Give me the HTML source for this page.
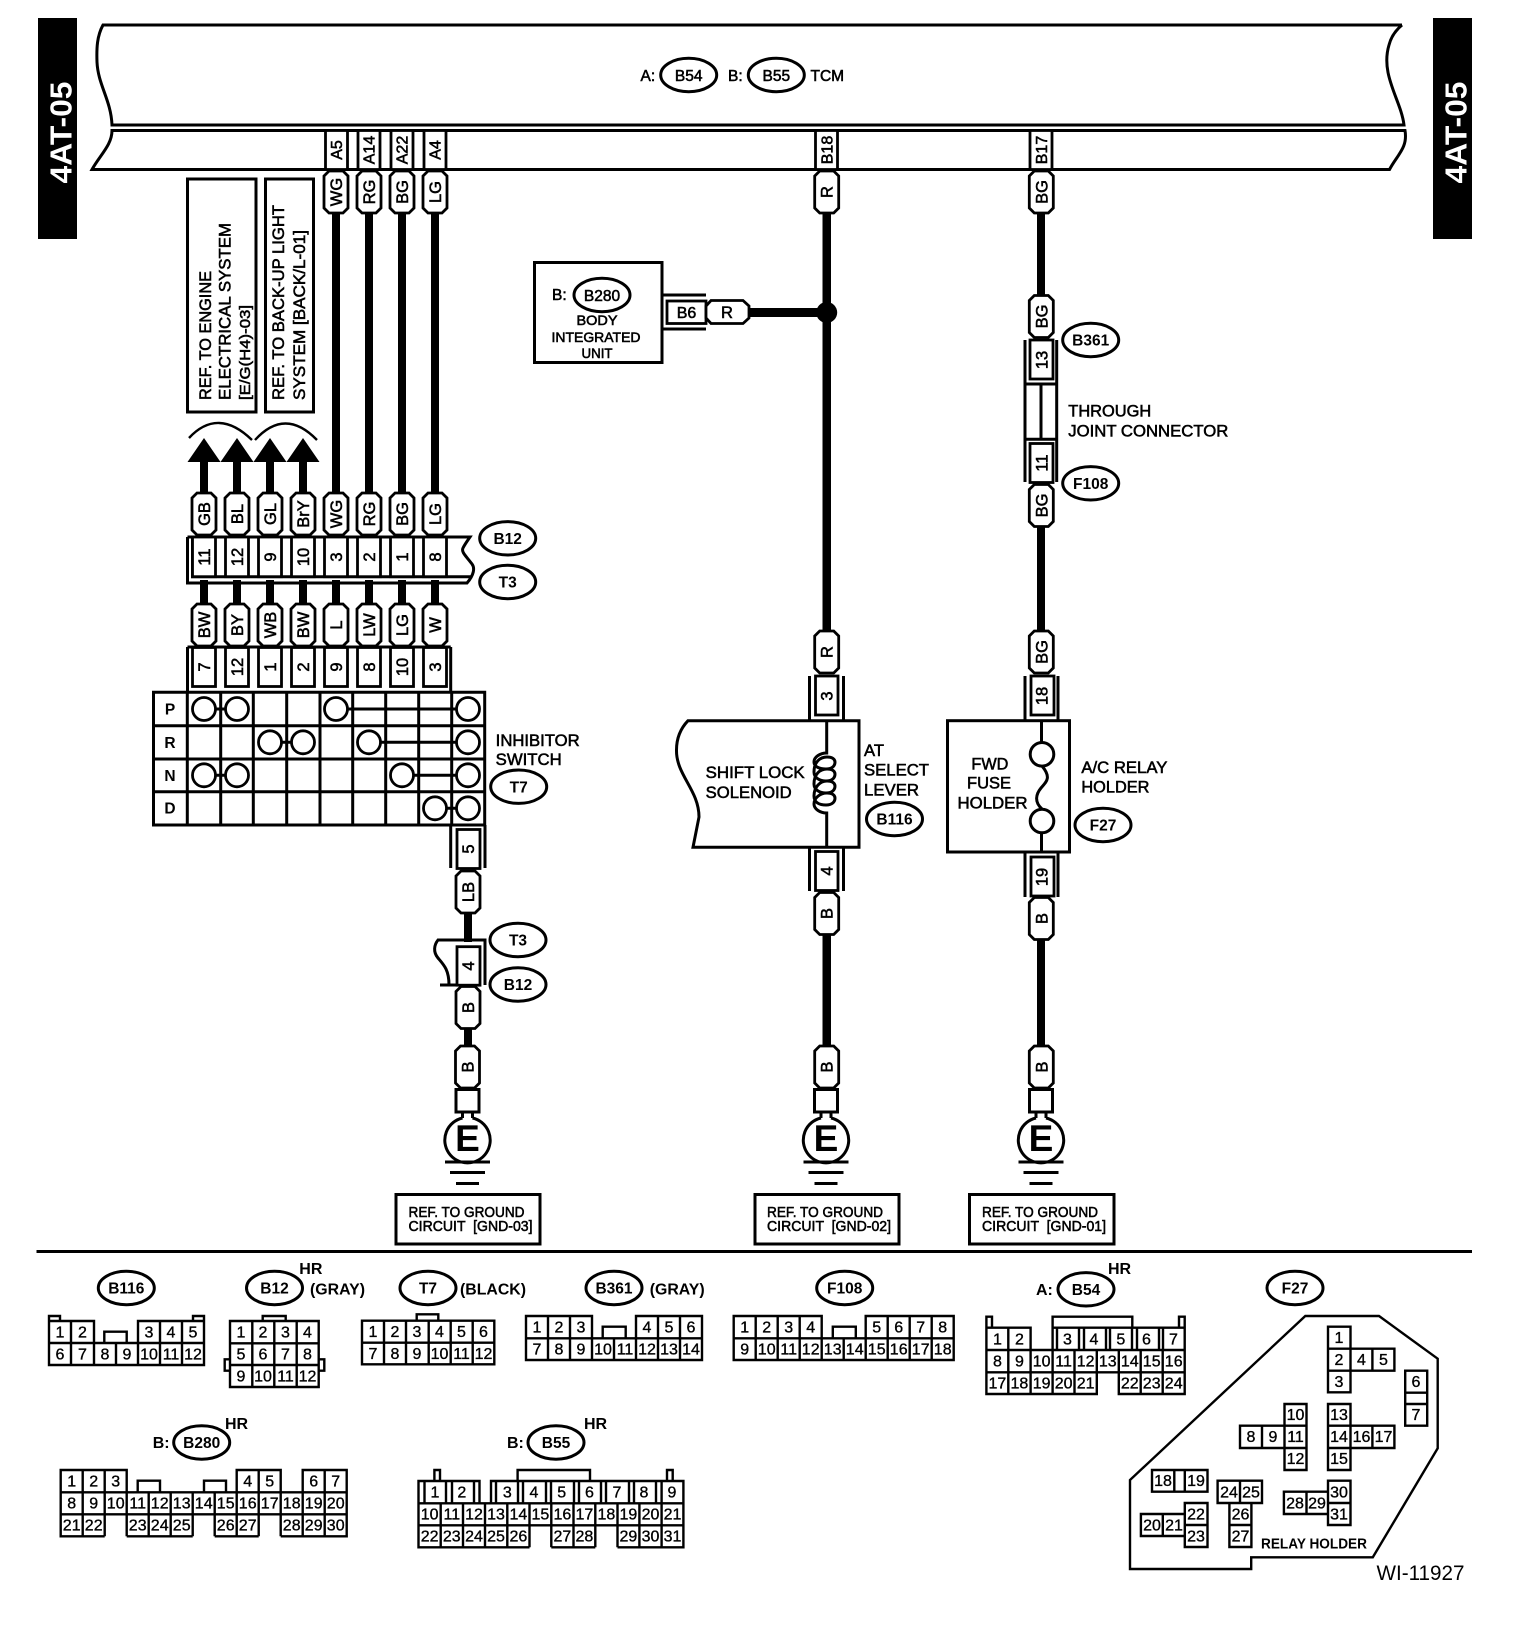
<!DOCTYPE html>
<html><head><meta charset="utf-8"><title>Wiring diagram</title>
<style>
html,body{margin:0;padding:0;background:#fff}
svg{display:block}
text{font-family:"Liberation Sans",sans-serif;fill:#000;stroke:#000;stroke-width:.55}
.l{fill:none;stroke:#000;stroke-width:3}
.g{fill:none;stroke:#000;stroke-width:2.4}
.w{fill:#fff;stroke:#000;stroke-width:2.8}
.m{text-anchor:middle}
.n text{font-size:16px;text-anchor:middle;stroke-width:.35}
.e text{font-size:15.5px;text-anchor:middle;font-weight:bold;stroke-width:0}
</style></head><body>
<svg xmlns="http://www.w3.org/2000/svg" width="1536" height="1638" viewBox="0 0 1536 1638">
<defs>
<path id="tag" class="w" d="M-12 5L-7 0H7L12 5V37L7 42H-7L-12 37Z"/>
<path id="arw" d="M0 0L16.500 24H4V55H-4V24H-16.500Z" fill="#000"/>
<ellipse id="el" class="l" rx="28" ry="16.700" fill="none"/>
<g id="gnd">
<path class="l" d="M-11.500 43.500H11.500V66H-11.500Z" fill="#fff"/>
<path class="l" d="M-5 66V72M5 66V72M-5 72A22.700 22.700 0 1 0 5 72"/>
<path class="l" d="M-22.500 116H22.500M-17.500 126.500H17.500M-11.500 137.500H11.500"/>
</g>
</defs>

<!-- side bars -->
<rect x="38" y="18" width="39" height="221" fill="#000"/>
<rect x="1433" y="18" width="39" height="221" fill="#000"/>
<text transform="translate(71.500 132.500) rotate(-90)" class="m" font-size="31" font-weight="bold" textLength="102" lengthAdjust="spacingAndGlyphs" style="fill:#fff;stroke:none">4AT-05</text>
<text transform="translate(1466.500 132.500) rotate(-90)" class="m" font-size="31" font-weight="bold" textLength="102" lengthAdjust="spacingAndGlyphs" style="fill:#fff;stroke:none">4AT-05</text>

<!-- TCM -->
<path class="l" d="M1402 25H103C97 36 96.500 48 97 62C98 85 111 100 112 125H1404C1401 100 1380 75 1389 45C1391 37 1396 30 1402 25"/>
<path class="l" d="M112 130.500C112 145 100 155 92 169.500H1389.500C1397 155 1408 148 1405 130.500Z"/>
<g font-size="15.500">
<text x="640.500" y="81">A:</text><text x="728" y="81">B:</text><text x="810.500" y="81">TCM</text>
<text x="688.700" y="81" class="m">B54</text><text x="776.300" y="81" class="m">B55</text>
</g>
<use href="#el" x="688.700" y="75"/><use href="#el" x="776.300" y="75"/>

<!-- top pins -->
<g class="w">
<rect x="325.500" y="130.500" width="22" height="39"/><rect x="358" y="130.500" width="22" height="39"/>
<rect x="391" y="130.500" width="22" height="39"/><rect x="424" y="130.500" width="22" height="39"/>
<rect x="815.500" y="130.500" width="22" height="39"/><rect x="1030" y="130.500" width="22" height="39"/>
</g>
<g font-size="16" text-anchor="middle">
<text transform="translate(342 150) rotate(-90)">A5</text>
<text transform="translate(374.500 150) rotate(-90)">A14</text>
<text transform="translate(407.500 150) rotate(-90)">A22</text>
<text transform="translate(440.500 150) rotate(-90)">A4</text>
<text transform="translate(832.500 150) rotate(-90)">B18</text>
<text transform="translate(1047 150) rotate(-90)">B17</text>
</g>

<!-- wires -->
<g fill="#000">
<rect x="332" y="213" width="8" height="280"/><rect x="365" y="213" width="8" height="280"/>
<rect x="398" y="213" width="8" height="280"/><rect x="431" y="213" width="8" height="280"/>
<rect x="200" y="580" width="8" height="25"/><rect x="233" y="580" width="8" height="25"/><rect x="266" y="580" width="8" height="25"/><rect x="299" y="580" width="8" height="25"/>
<rect x="332" y="580" width="8" height="25"/><rect x="365" y="580" width="8" height="25"/><rect x="398" y="580" width="8" height="25"/><rect x="431" y="580" width="8" height="25"/>
<rect x="464" y="912" width="8" height="30"/><rect x="464" y="1028" width="8" height="20"/>
<rect x="822.500" y="213" width="8.500" height="420"/><rect x="822.500" y="935" width="8.500" height="112"/>
<rect x="1037" y="213" width="8" height="84"/><rect x="1037" y="525" width="8" height="108"/><rect x="1037" y="937" width="8" height="110"/>
<rect x="748" y="308" width="78" height="9"/><circle cx="826.700" cy="312.500" r="10.500"/>
</g>

<!-- ref boxes -->
<rect class="l" x="187.500" y="179" width="68.500" height="233"/>
<rect class="l" x="265.500" y="179" width="48" height="233"/>
<g font-size="16.500">
<text transform="translate(211 400) rotate(-90)" textLength="129" lengthAdjust="spacingAndGlyphs">REF. TO ENGINE</text>
<text transform="translate(230.500 400) rotate(-90)" textLength="177" lengthAdjust="spacingAndGlyphs">ELECTRICAL SYSTEM</text>
<text transform="translate(250 400) rotate(-90)" font-size="15" textLength="95" lengthAdjust="spacingAndGlyphs">[E/G(H4)-03]</text>
<text transform="translate(284 400) rotate(-90)" textLength="195" lengthAdjust="spacingAndGlyphs">REF. TO BACK-UP LIGHT</text>
<text transform="translate(305 400) rotate(-90)" textLength="170" lengthAdjust="spacingAndGlyphs">SYSTEM [BACK/L-01]</text>
</g>

<!-- arrows -->
<use href="#arw" x="204" y="438"/><use href="#arw" x="237" y="438"/><use href="#arw" x="270" y="438"/><use href="#arw" x="303" y="438"/>
<path class="g" d="M189 438Q218 407 252 440M255 440Q285 407 317 440"/>

<!-- wire tags -->
<g>
<use href="#tag" x="336" y="171"/><use href="#tag" x="369" y="171"/><use href="#tag" x="402" y="171"/><use href="#tag" x="435" y="171"/>
<use href="#tag" x="826.700" y="171"/><use href="#tag" x="1041.300" y="171"/>
<use href="#tag" x="204" y="493"/><use href="#tag" x="237" y="493"/><use href="#tag" x="270" y="493"/><use href="#tag" x="303" y="493"/>
<use href="#tag" x="336" y="493"/><use href="#tag" x="369" y="493"/><use href="#tag" x="402" y="493"/><use href="#tag" x="435" y="493"/>
<use href="#tag" x="204" y="604"/><use href="#tag" x="237" y="604"/><use href="#tag" x="270" y="604"/><use href="#tag" x="303" y="604"/>
<use href="#tag" x="336" y="604"/><use href="#tag" x="369" y="604"/><use href="#tag" x="402" y="604"/><use href="#tag" x="435" y="604"/>
<use href="#tag" x="468" y="871"/><use href="#tag" x="468" y="986.500"/><use href="#tag" x="467.500" y="1046"/>
<use href="#tag" x="826.700" y="631"/><use href="#tag" x="826.700" y="892.500"/><use href="#tag" x="826.700" y="1046"/>
<use href="#tag" x="1041.300" y="295.500"/><use href="#tag" x="1041.300" y="484.500"/><use href="#tag" x="1041.300" y="631"/><use href="#tag" x="1041.300" y="897.500"/><use href="#tag" x="1041.300" y="1046"/>
</g>
<g font-size="16.500" text-anchor="middle">
<text transform="translate(342 192) rotate(-90)">WG</text><text transform="translate(375 192) rotate(-90)">RG</text>
<text transform="translate(408 192) rotate(-90)">BG</text><text transform="translate(441 192) rotate(-90)">LG</text>
<text transform="translate(832.700 192) rotate(-90)">R</text><text transform="translate(1047.300 192) rotate(-90)">BG</text>
<text transform="translate(210 514) rotate(-90)">GB</text><text transform="translate(243 514) rotate(-90)">BL</text>
<text transform="translate(276 514) rotate(-90)">GL</text><text transform="translate(309 514) rotate(-90)">BrY</text>
<text transform="translate(342 514) rotate(-90)">WG</text><text transform="translate(375 514) rotate(-90)">RG</text>
<text transform="translate(408 514) rotate(-90)">BG</text><text transform="translate(441 514) rotate(-90)">LG</text>
<text transform="translate(210 625) rotate(-90)">BW</text><text transform="translate(243 625) rotate(-90)">BY</text>
<text transform="translate(276 625) rotate(-90)">WB</text><text transform="translate(309 625) rotate(-90)">BW</text>
<text transform="translate(342 625) rotate(-90)">L</text><text transform="translate(375 625) rotate(-90)">LW</text>
<text transform="translate(408 625) rotate(-90)">LG</text><text transform="translate(441 625) rotate(-90)">W</text>
<text transform="translate(474 892) rotate(-90)">LB</text><text transform="translate(474 1007.500) rotate(-90)">B</text>
<text transform="translate(473.500 1067) rotate(-90)">B</text>
<text transform="translate(832.700 652) rotate(-90)">R</text><text transform="translate(832.700 913.500) rotate(-90)">B</text><text transform="translate(832.700 1067) rotate(-90)">B</text>
<text transform="translate(1047.300 316.500) rotate(-90)">BG</text><text transform="translate(1047.300 505.500) rotate(-90)">BG</text>
<text transform="translate(1047.300 652) rotate(-90)">BG</text><text transform="translate(1047.300 918.500) rotate(-90)">B</text><text transform="translate(1047.300 1067) rotate(-90)">B</text>
</g>

<!-- T3/B12 upper connector -->
<path class="l" d="M187.500 537V583H467C474 575 475 568 472 564C466 556 461 552 463 548C465 544 468 540 470 537H187.500M192.500 537V576.700H472"/>
<g class="w">
<rect x="192.500" y="537" width="23" height="39.700"/><rect x="225.500" y="537" width="23" height="39.700"/><rect x="258.500" y="537" width="23" height="39.700"/><rect x="291.500" y="537" width="23" height="39.700"/>
<rect x="324.500" y="537" width="23" height="39.700"/><rect x="357.500" y="537" width="23" height="39.700"/><rect x="390.500" y="537" width="23" height="39.700"/><rect x="423.500" y="537" width="23" height="39.700"/>
</g>
<g font-size="16.500" text-anchor="middle">
<text transform="translate(210 557) rotate(-90)">11</text><text transform="translate(243 557) rotate(-90)">12</text>
<text transform="translate(276 557) rotate(-90)">9</text><text transform="translate(309 557) rotate(-90)">10</text>
<text transform="translate(342 557) rotate(-90)">3</text><text transform="translate(375 557) rotate(-90)">2</text>
<text transform="translate(408 557) rotate(-90)">1</text><text transform="translate(441 557) rotate(-90)">8</text>
</g>
<use href="#el" x="507.700" y="538.300"/><use href="#el" x="507.700" y="582"/>
<g class="e"><text x="507.700" y="544">B12</text><text x="507.700" y="587.500">T3</text></g>

<!-- inhibitor connector -->
<path class="l" d="M187.500 647V692M450.700 647V692M187.500 647H450.700"/>
<g class="w">
<rect x="192.500" y="647.500" width="23" height="39"/><rect x="225.500" y="647.500" width="23" height="39"/><rect x="258.500" y="647.500" width="23" height="39"/><rect x="291.500" y="647.500" width="23" height="39"/>
<rect x="324.500" y="647.500" width="23" height="39"/><rect x="357.500" y="647.500" width="23" height="39"/><rect x="390.500" y="647.500" width="23" height="39"/><rect x="423.500" y="647.500" width="23" height="39"/>
</g>
<g font-size="16.500" text-anchor="middle">
<text transform="translate(210 667) rotate(-90)">7</text><text transform="translate(243 667) rotate(-90)">12</text>
<text transform="translate(276 667) rotate(-90)">1</text><text transform="translate(309 667) rotate(-90)">2</text>
<text transform="translate(342 667) rotate(-90)">9</text><text transform="translate(375 667) rotate(-90)">8</text>
<text transform="translate(408 667) rotate(-90)">10</text><text transform="translate(441 667) rotate(-90)">3</text>
</g>

<!-- table -->
<path class="l" d="M153.500 692.300H484.700V825H153.500ZM153.500 725.700H484.700M153.500 759H484.700M153.500 791.700H484.700M187.300 692.300V825M220.700 692.300V825M253.300 692.300V825M286.700 692.300V825M320 692.300V825M352.700 692.300V825M385.700 692.300V825M418.700 692.300V825M451.700 692.300V825"/>
<path class="l" d="M204 709H237M336 709H468M270 742.300H303M369 742.300H468M204 775.300H237M402 775.300H468M435 808.300H468"/>
<g class="w">
<circle cx="204" cy="709" r="11.500"/><circle cx="237" cy="709" r="11.500"/><circle cx="336" cy="709" r="11.500"/><circle cx="468" cy="709" r="11.500"/>
<circle cx="270" cy="742.300" r="11.500"/><circle cx="303" cy="742.300" r="11.500"/><circle cx="369" cy="742.300" r="11.500"/><circle cx="468" cy="742.300" r="11.500"/>
<circle cx="204" cy="775.300" r="11.500"/><circle cx="237" cy="775.300" r="11.500"/><circle cx="402" cy="775.300" r="11.500"/><circle cx="468" cy="775.300" r="11.500"/>
<circle cx="435" cy="808.300" r="11.500"/><circle cx="468" cy="808.300" r="11.500"/>
</g>
<g class="e"><text x="170" y="714.500">P</text><text x="170" y="748">R</text><text x="170" y="781">N</text><text x="170" y="813.500">D</text></g>
<g font-size="16.500"><text x="495.700" y="746" textLength="84" lengthAdjust="spacingAndGlyphs">INHIBITOR</text><text x="495.700" y="765" textLength="66" lengthAdjust="spacingAndGlyphs">SWITCH</text></g>
<use href="#el" x="518.700" y="786.700"/>
<text x="518.700" y="792.500" class="m" font-size="15.500" font-weight="bold" style="stroke:none;text-anchor:middle">T7</text>

<!-- T7 pin 5 and T3/B12 lower -->
<path class="l" d="M450.700 825V868M485 825V868"/>
<rect class="w" x="457" y="829.500" width="23" height="39"/>
<text transform="translate(474 849) rotate(-90)" font-size="16.500" text-anchor="middle">5</text>
<path class="l" d="M485 985V940H438C434 945 433 952 438 958C444 965 449 970 449 985H440H480"/>
<rect class="w" x="457" y="946.700" width="23" height="38.500"/>
<text transform="translate(474 966) rotate(-90)" font-size="16.500" text-anchor="middle">4</text>
<use href="#el" x="518" y="940"/><use href="#el" x="518" y="984.500"/>
<g class="e"><text x="518" y="945.500">T3</text><text x="518" y="990">B12</text></g>

<!-- grounds -->
<use href="#gnd" x="467.500" y="1046"/><use href="#gnd" x="826" y="1046"/><use href="#gnd" x="1041" y="1046"/>
<g font-size="37" font-weight="bold" text-anchor="middle">
<text x="467.500" y="1151" style="stroke:none">E</text><text x="826" y="1151" style="stroke:none">E</text><text x="1041" y="1151" style="stroke:none">E</text>
</g>
<rect class="l" x="396" y="1194.500" width="144" height="49.500"/>
<rect class="l" x="755" y="1194.500" width="144" height="49.500"/>
<rect class="l" x="969.500" y="1194.500" width="144.500" height="49.500"/>
<g font-size="15">
<text x="408.500" y="1217" textLength="116" lengthAdjust="spacingAndGlyphs">REF. TO GROUND</text>
<text x="408.500" y="1231" textLength="124" lengthAdjust="spacingAndGlyphs" xml:space="preserve">CIRCUIT  [GND-03]</text>
<text x="767" y="1217" textLength="116" lengthAdjust="spacingAndGlyphs">REF. TO GROUND</text>
<text x="767" y="1231" textLength="124" lengthAdjust="spacingAndGlyphs" xml:space="preserve">CIRCUIT  [GND-02]</text>
<text x="982" y="1217" textLength="116" lengthAdjust="spacingAndGlyphs">REF. TO GROUND</text>
<text x="982" y="1231" textLength="124" lengthAdjust="spacingAndGlyphs" xml:space="preserve">CIRCUIT  [GND-01]</text>
</g>
<path d="M36.500 1251.500H1472" stroke="#000" stroke-width="3" fill="none"/>

<!-- body integrated unit -->
<rect class="l" x="534.500" y="262.500" width="127.500" height="100"/>
<path class="l" d="M662 295H706M662 329H706"/>
<rect class="w" x="667" y="301" width="39" height="22.500"/>
<text x="686.500" y="318" font-size="16" text-anchor="middle">B6</text>
<path class="w" d="M706 306L711 300.500H743L749 306V318L743 323.500H711L706 318Z"/>
<text x="727" y="318" font-size="16.500" text-anchor="middle">R</text>
<use href="#el" x="602" y="295"/>
<text x="552" y="300" font-size="15.500">B:</text><text x="602" y="301" font-size="15.500" text-anchor="middle">B280</text>
<g font-size="13.500" text-anchor="middle">
<text x="597" y="325" textLength="41" lengthAdjust="spacingAndGlyphs">BODY</text>
<text x="596" y="342" textLength="89" lengthAdjust="spacingAndGlyphs">INTEGRATED</text>
<text x="597" y="358" textLength="31" lengthAdjust="spacingAndGlyphs">UNIT</text>
</g>

<!-- shift lock -->
<path class="l" d="M809.500 676V720M843.500 676V720M809.500 848V891M843.500 848V891"/>
<rect class="w" x="815.500" y="676" width="22.500" height="39"/>
<rect class="w" x="815.500" y="851.500" width="22.500" height="39"/>
<text transform="translate(832.700 696) rotate(-90)" font-size="16.500" text-anchor="middle">3</text>
<text transform="translate(832.700 871) rotate(-90)" font-size="16.500" text-anchor="middle">4</text>
<path class="l" d="M688 720.700H859V847.300H693L699 817C699 790 676 775 676.500 750C676.500 737 681 728 688 720.700Z" fill="#fff"/>
<path class="l" d="M826.700 720.700V753C820 753 814 757 814 762C814 767 820 769 826 769C832 769 835 766 835 762C835 759 832 757 827 757C820 757 814 762 814 772C814 778 820 781 826 781C832 781 835 778 835 774C835 771 832 769 827 769C820 769 814 774 814 784C814 790 820 793 826 793C832 793 835 790 835 786C835 783 832 781 827 781C820 781 814 787 814 796C814 803 820 805 826 805C832 805 835 802 835 798C835 795 832 793 827 793C820 793 814 798 814 804C814 809 820 813 826.700 813V847"/>
<g font-size="16.500">
<text x="705.700" y="778" textLength="99" lengthAdjust="spacingAndGlyphs">SHIFT LOCK</text>
<text x="705.700" y="798" textLength="86" lengthAdjust="spacingAndGlyphs">SOLENOID</text>
<text x="864" y="756" textLength="20" lengthAdjust="spacingAndGlyphs">AT</text>
<text x="864" y="775.700" textLength="65" lengthAdjust="spacingAndGlyphs">SELECT</text>
<text x="864" y="795.700" textLength="55" lengthAdjust="spacingAndGlyphs">LEVER</text>
</g>
<use href="#el" x="894.500" y="819"/>
<g class="e"><text x="894.500" y="824.500">B116</text></g>

<!-- through joint -->
<path class="l" d="M1025 340V482M1056.700 340V482M1025 384H1056.700M1025 439.300H1056.700M1041 384V439.300"/>
<rect class="w" x="1030" y="340" width="23" height="39"/>
<rect class="w" x="1030" y="443.500" width="23" height="39"/>
<text transform="translate(1047.300 360) rotate(-90)" font-size="16.500" text-anchor="middle">13</text>
<text transform="translate(1047.300 463) rotate(-90)" font-size="16.500" text-anchor="middle">11</text>
<use href="#el" x="1090.700" y="340"/><use href="#el" x="1090.700" y="483.300"/>
<g class="e"><text x="1090.700" y="345.500">B361</text><text x="1090.700" y="489">F108</text></g>
<g font-size="16.500">
<text x="1068.300" y="416.700" textLength="83" lengthAdjust="spacingAndGlyphs">THROUGH</text>
<text x="1068.300" y="436.700" textLength="160" lengthAdjust="spacingAndGlyphs">JOINT CONNECTOR</text>
</g>

<!-- fuse box -->
<path class="l" d="M1025 676V720M1058 676V720M1025 853V897M1058 853V897"/>
<rect class="w" x="1031" y="676" width="23" height="39"/>
<rect class="w" x="1031" y="857" width="23" height="39"/>
<text transform="translate(1047.500 696) rotate(-90)" font-size="16.500" text-anchor="middle">18</text>
<text transform="translate(1047.500 877) rotate(-90)" font-size="16.500" text-anchor="middle">19</text>
<rect class="l" x="947.500" y="720.700" width="122" height="131.300" fill="#fff"/>
<path class="l" d="M1041.500 720.700V742.500M1041.500 833V852M1042 766C1052 778 1046 782 1041 788C1036 794 1034 802 1042 809"/>
<circle class="l" cx="1042" cy="754.300" r="11.800"/><circle class="l" cx="1042" cy="821" r="11.800"/>
<g font-size="16.500">
<text x="971.400" y="769.300" textLength="37" lengthAdjust="spacingAndGlyphs">FWD</text>
<text x="967" y="788.700" textLength="44" lengthAdjust="spacingAndGlyphs">FUSE</text>
<text x="957.500" y="808.300" textLength="70" lengthAdjust="spacingAndGlyphs">HOLDER</text>
<text x="1081.400" y="773" textLength="86" lengthAdjust="spacingAndGlyphs">A/C RELAY</text>
<text x="1081.400" y="792.700" textLength="68" lengthAdjust="spacingAndGlyphs">HOLDER</text>
</g>
<use href="#el" x="1103" y="825"/>
<g class="e"><text x="1103" y="830.500">F27</text></g>

<!-- connector headings -->
<use href="#el" x="126.300" y="1288"/><use href="#el" x="274.500" y="1288"/><use href="#el" x="428" y="1288"/><use href="#el" x="614" y="1288"/><use href="#el" x="844.700" y="1288"/><use href="#el" x="1086" y="1289.300"/><use href="#el" x="1295" y="1288"/><use href="#el" x="201.700" y="1442.500"/><use href="#el" x="556" y="1442.500"/>
<g class="e">
<text x="126.300" y="1293.500">B116</text><text x="274.500" y="1293.500">B12</text><text x="428" y="1293.500">T7</text><text x="614" y="1293.500">B361</text><text x="844.700" y="1293.500">F108</text><text x="1086" y="1295">B54</text><text x="1295" y="1293.500">F27</text><text x="201.700" y="1448">B280</text><text x="556" y="1448">B55</text>
</g>
<g font-size="16" font-weight="bold">
<text x="299.300" y="1274" style="stroke:none">HR</text><text x="225" y="1429" style="stroke:none">HR</text><text x="584" y="1429" style="stroke:none">HR</text><text x="1108" y="1274" style="stroke:none">HR</text>
<text x="310" y="1294.300" style="stroke:none" textLength="55" lengthAdjust="spacingAndGlyphs">(GRAY)</text><text x="460" y="1294.300" style="stroke:none" textLength="66" lengthAdjust="spacingAndGlyphs">(BLACK)</text><text x="649.700" y="1294.300" style="stroke:none" textLength="55" lengthAdjust="spacingAndGlyphs">(GRAY)</text>
<text x="152.700" y="1448" style="stroke:none">B:</text><text x="507" y="1448" style="stroke:none">B:</text><text x="1036" y="1295" style="stroke:none">A:</text>
</g>

<!-- B116 -->
<path class="g" d="M49 1343V1321H94V1343M71 1321V1343M138 1343V1321H204V1343M160 1321V1343M182 1321V1343M49 1343H204V1365H49ZM71 1343V1365M94 1343V1365M116 1343V1365M138 1343V1365M160 1343V1365M182 1343V1365M49 1321V1316H60V1321M193 1321V1316H204V1321M104.300 1343V1331.700H126.700V1343"/>
<g class="n"><text x="60" y="1337.500">1</text><text x="82.500" y="1337.500">2</text><text x="149" y="1337.500">3</text><text x="171" y="1337.500">4</text><text x="193" y="1337.500">5</text>
<text x="60" y="1359.500">6</text><text x="82.500" y="1359.500">7</text><text x="105" y="1359.500">8</text><text x="127" y="1359.500">9</text><text x="149" y="1359.500">10</text><text x="171" y="1359.500">11</text><text x="193" y="1359.500">12</text></g>

<!-- B12 -->
<path class="g" d="M230 1321H318.700V1387H230ZM230 1343.300H318.700M230 1365H318.700M252.300 1321V1387M274.300 1321V1387M296.700 1321V1387M262.700 1321V1316H285.700V1321M230 1359.300H224.700V1370.700H230M318.700 1359.300H324.300V1370.700H318.700"/>
<g class="n"><text x="241" y="1337.500">1</text><text x="263" y="1337.500">2</text><text x="285.500" y="1337.500">3</text><text x="307.500" y="1337.500">4</text>
<text x="241" y="1359.500">5</text><text x="263" y="1359.500">6</text><text x="285.500" y="1359.500">7</text><text x="307.500" y="1359.500">8</text>
<text x="241" y="1381.500">9</text><text x="263" y="1381.500">10</text><text x="285.500" y="1381.500">11</text><text x="307.500" y="1381.500">12</text></g>

<!-- T7 -->
<path class="g" d="M362 1320.700H494.300V1364.300H362ZM362 1342.700H494.300M384 1320.700V1364.300M406 1320.700V1364.300M428.700 1320.700V1364.300M450.700 1320.700V1364.300M472.700 1320.700V1364.300M416.700 1320.700V1314.300H438.300V1320.700"/>
<g class="n"><text x="373" y="1337">1</text><text x="395" y="1337">2</text><text x="417" y="1337">3</text><text x="439.500" y="1337">4</text><text x="461.500" y="1337">5</text><text x="483.500" y="1337">6</text>
<text x="373" y="1359">7</text><text x="395" y="1359">8</text><text x="417" y="1359">9</text><text x="439.500" y="1359">10</text><text x="461.500" y="1359">11</text><text x="483.500" y="1359">12</text></g>

<!-- B361 -->
<path class="g" d="M526 1338.300V1316H592V1338.300M548 1316V1338.300M570 1316V1338.300M636 1338.300V1316H702V1338.300M658 1316V1338.300M680 1316V1338.300M526 1338.300H702V1360H526ZM548 1338.300V1360M570 1338.300V1360M592 1338.300V1360M614 1338.300V1360M636 1338.300V1360M658 1338.300V1360M680 1338.300V1360M602.700 1338.300V1326.700H625.700V1338.300"/>
<g class="n"><text x="537" y="1332.500">1</text><text x="559" y="1332.500">2</text><text x="581" y="1332.500">3</text><text x="647" y="1332.500">4</text><text x="669" y="1332.500">5</text><text x="691" y="1332.500">6</text>
<text x="537" y="1354.500">7</text><text x="559" y="1354.500">8</text><text x="581" y="1354.500">9</text><text x="603" y="1354.500">10</text><text x="625" y="1354.500">11</text><text x="647" y="1354.500">12</text><text x="669" y="1354.500">13</text><text x="691" y="1354.500">14</text></g>

<!-- F108 -->
<path class="g" d="M733.700 1338.300V1316H821.700V1338.300M755.700 1316V1338.300M777.700 1316V1338.300M799.700 1316V1338.300M865.700 1338.300V1316H953.700V1338.300M887.700 1316V1338.300M909.700 1316V1338.300M931.700 1316V1338.300M733.700 1338.300H953.700V1360H733.700ZM755.700 1338.300V1360M777.700 1338.300V1360M799.700 1338.300V1360M821.700 1338.300V1360M843.700 1338.300V1360M865.700 1338.300V1360M887.700 1338.300V1360M909.700 1338.300V1360M931.700 1338.300V1360M832.800 1338.300V1326.700H855.800V1338.300"/>
<g class="n"><text x="744.700" y="1332.500">1</text><text x="766.700" y="1332.500">2</text><text x="788.700" y="1332.500">3</text><text x="810.700" y="1332.500">4</text><text x="876.700" y="1332.500">5</text><text x="898.700" y="1332.500">6</text><text x="920.700" y="1332.500">7</text><text x="942.700" y="1332.500">8</text>
<text x="744.700" y="1354.500">9</text><text x="766.700" y="1354.500">10</text><text x="788.700" y="1354.500">11</text><text x="810.700" y="1354.500">12</text><text x="832.700" y="1354.500">13</text><text x="854.700" y="1354.500">14</text><text x="876.700" y="1354.500">15</text><text x="898.700" y="1354.500">16</text><text x="920.700" y="1354.500">17</text><text x="942.700" y="1354.500">18</text></g>

<!-- B54 -->
<path class="g" d="M986.400 1350V1327.700H1030.600V1350M1008.300 1327.700V1350M1052.600 1350V1327.700H1184.700V1350M1057 1327.700V1350M1079 1327.700V1350M1084 1327.700V1350M1106 1327.700V1350M1110 1327.700V1350M1132 1327.700V1350M1137 1327.700V1350M1159 1327.700V1350M1163 1327.700V1350M986.400 1350H1184.700V1372.300H986.400ZM1008.300 1350V1394M1030.600 1350V1394M1052.600 1350V1394M1074.500 1350V1394M1096.800 1350V1394M1118.800 1350V1372.300M1140.700 1350V1394M1162.700 1350V1394M986.400 1372.300V1394H1096.800V1372.300M1118.800 1372.300V1394H1184.700V1372.300M986.400 1327.700V1316.700H992V1327.700M1179 1327.700V1316.700H1184.700V1327.700M1052.600 1327.700V1316.700H1132.300V1327.700"/>
<g class="n"><text x="997.400" y="1344.500">1</text><text x="1019.400" y="1344.500">2</text><text x="1067.400" y="1344.500">3</text><text x="1094" y="1344.500">4</text><text x="1120.800" y="1344.500">5</text><text x="1146.500" y="1344.500">6</text><text x="1173.500" y="1344.500">7</text>
<text x="997.400" y="1366.500">8</text><text x="1019.400" y="1366.500">9</text><text x="1041.600" y="1366.500">10</text><text x="1063.600" y="1366.500">11</text><text x="1085.600" y="1366.500">12</text><text x="1107.800" y="1366.500">13</text><text x="1129.800" y="1366.500">14</text><text x="1151.700" y="1366.500">15</text><text x="1173.700" y="1366.500">16</text>
<text x="997.400" y="1388.500">17</text><text x="1019.400" y="1388.500">18</text><text x="1041.600" y="1388.500">19</text><text x="1063.600" y="1388.500">20</text><text x="1085.600" y="1388.500">21</text><text x="1129.800" y="1388.500">22</text><text x="1151.700" y="1388.500">23</text><text x="1173.700" y="1388.500">24</text></g>

<!-- B280 -->
<path class="g" d="M60.700 1492.300V1470H126.700V1492.300M82.700 1470V1492.300M104.700 1470V1492.300M236.700 1492.300V1470H280.700V1492.300M258.700 1470V1492.300M302.700 1492.300V1470H346.700V1492.300M324.700 1470V1492.300M60.700 1492.300H346.700V1514.300H60.700ZM82.700 1492.300V1536.300M104.700 1492.300V1536.300M126.700 1492.300V1536.300M148.700 1492.300V1536.300M170.700 1492.300V1536.300M192.700 1492.300V1536.300M214.700 1492.300V1536.300M236.700 1492.300V1536.300M258.700 1492.300V1536.300M280.700 1492.300V1536.300M302.700 1492.300V1536.300M324.700 1492.300V1536.300M60.700 1514.300V1536.300H104.700M126.700 1536.300H192.700M214.700 1536.300H258.700M280.700 1536.300H346.700V1514.300M137.700 1492.300V1480.700H160V1492.300M204 1492.300V1480.700H226V1492.300"/>
<g class="n"><text x="71.700" y="1486.500">1</text><text x="93.700" y="1486.500">2</text><text x="115.700" y="1486.500">3</text><text x="247.700" y="1486.500">4</text><text x="269.700" y="1486.500">5</text><text x="313.700" y="1486.500">6</text><text x="335.700" y="1486.500">7</text>
<text x="71.700" y="1508.500">8</text><text x="93.700" y="1508.500">9</text><text x="115.700" y="1508.500">10</text><text x="137.700" y="1508.500">11</text><text x="159.700" y="1508.500">12</text><text x="181.700" y="1508.500">13</text><text x="203.700" y="1508.500">14</text><text x="225.700" y="1508.500">15</text><text x="247.700" y="1508.500">16</text><text x="269.700" y="1508.500">17</text><text x="291.700" y="1508.500">18</text><text x="313.700" y="1508.500">19</text><text x="335.700" y="1508.500">20</text>
<text x="71.700" y="1530.500">21</text><text x="93.700" y="1530.500">22</text><text x="137.700" y="1530.500">23</text><text x="159.700" y="1530.500">24</text><text x="181.700" y="1530.500">25</text><text x="225.700" y="1530.500">26</text><text x="247.700" y="1530.500">27</text><text x="291.700" y="1530.500">28</text><text x="313.700" y="1530.500">29</text><text x="335.700" y="1530.500">30</text></g>

<!-- B55 -->
<path class="g" d="M418.500 1503.300V1481H479.500V1503.300M424.500 1481V1503.300M446 1481V1503.300M452 1481V1503.300M474 1481V1503.300M491 1503.300V1481H683.400V1503.300M496 1481V1503.300M518 1481V1503.300M523 1481V1503.300M546 1481V1503.300M551 1481V1503.300M574 1481V1503.300M579 1481V1503.300M601 1481V1503.300M606 1481V1503.300M629 1481V1503.300M634 1481V1503.300M656 1481V1503.300M661.600 1481V1503.300M418.500 1503.300H683.400V1525.300H418.500ZM440.700 1503.300V1547.300M463 1503.300V1547.300M485 1503.300V1547.300M507.300 1503.300V1547.300M529.500 1503.300V1525.300M551.300 1503.300V1547.300M573.500 1503.300V1547.300M595.300 1503.300V1525.300M617.500 1503.300V1547.300M639.400 1503.300V1547.300M661.600 1503.300V1547.300M529.500 1525.300V1547.300M595.300 1525.300V1547.300M418.500 1525.300V1547.300H529.500M551.300 1547.300H595.300M617.500 1547.300H683.400V1525.300M434.400 1481V1470H440V1481M667 1481V1470H672.700V1481M517.600 1481V1470H590V1481"/>
<g class="n"><text x="435" y="1497.500">1</text><text x="461.800" y="1497.500">2</text><text x="507.300" y="1497.500">3</text><text x="534" y="1497.500">4</text><text x="561.700" y="1497.500">5</text><text x="589.400" y="1497.500">6</text><text x="617" y="1497.500">7</text><text x="644" y="1497.500">8</text><text x="672" y="1497.500">9</text>
<text x="429.600" y="1519.500">10</text><text x="451.800" y="1519.500">11</text><text x="474" y="1519.500">12</text><text x="496" y="1519.500">13</text><text x="518.400" y="1519.500">14</text><text x="540.400" y="1519.500">15</text><text x="562.400" y="1519.500">16</text><text x="584.400" y="1519.500">17</text><text x="606.400" y="1519.500">18</text><text x="628.400" y="1519.500">19</text><text x="650.500" y="1519.500">20</text><text x="672.500" y="1519.500">21</text>
<text x="429.600" y="1541.500">22</text><text x="451.800" y="1541.500">23</text><text x="474" y="1541.500">24</text><text x="496" y="1541.500">25</text><text x="518.400" y="1541.500">26</text><text x="562.400" y="1541.500">27</text><text x="584.400" y="1541.500">28</text><text x="628.400" y="1541.500">29</text><text x="650.500" y="1541.500">30</text><text x="672.500" y="1541.500">31</text></g>

<!-- F27 relay holder -->
<path class="g" d="M1305.300 1316H1379L1437.700 1358.700V1448.300L1372.800 1557.300H1251.200V1569H1130V1480Z"/>
<path class="g" d="M1328 1326.700H1350.500V1392.300H1328ZM1328 1348.700H1394.400V1370.700H1328M1372.400 1348.700V1370.700M1405.200 1370.700H1427.200V1425.700H1405.200ZM1405.200 1392.700H1427.200M1405.200 1404H1427.200M1284.500 1404H1306.500V1470H1284.500ZM1284.500 1425.700H1306.500M1284.500 1448H1306.500M1240 1425.700H1284.500V1448H1240ZM1262 1425.700V1448M1328 1404H1350.500V1470H1328ZM1328 1425.700H1394.400V1448H1328M1372.400 1425.700V1448M1152 1470H1207.500V1491.700H1152ZM1174.300 1470V1491.700M1184.800 1470V1491.700M1217.600 1480.700H1262V1503H1217.600ZM1240 1480.700V1503M1229.400 1503V1547H1251.400V1503M1229.400 1525H1251.400M1184.800 1503H1207.500V1547H1184.800ZM1184.800 1525H1207.500M1184.800 1514H1140.900V1536H1184.800M1162.800 1514V1536M1328 1480.700H1350.500V1525H1328ZM1328 1503H1350.500M1328 1491.700H1283.900V1514H1328M1306.500 1491.700V1514"/>
<g class="n">
<text x="1339" y="1343">1</text><text x="1339" y="1365">2</text><text x="1339" y="1387">3</text><text x="1361.500" y="1365">4</text><text x="1383.500" y="1365">5</text><text x="1416" y="1387">6</text><text x="1416" y="1420">7</text>
<text x="1251" y="1442">8</text><text x="1273" y="1442">9</text><text x="1295.500" y="1420">10</text><text x="1295.500" y="1442">11</text><text x="1295.500" y="1464">12</text>
<text x="1339" y="1420">13</text><text x="1339" y="1442">14</text><text x="1339" y="1464">15</text><text x="1361.500" y="1442">16</text><text x="1383.500" y="1442">17</text>
<text x="1163" y="1486">18</text><text x="1196" y="1486">19</text><text x="1152" y="1530.500">20</text><text x="1174" y="1530.500">21</text><text x="1196" y="1519.500">22</text><text x="1196" y="1541.500">23</text>
<text x="1229" y="1497.500">24</text><text x="1251" y="1497.500">25</text><text x="1240.500" y="1519.500">26</text><text x="1240.500" y="1541.500">27</text>
<text x="1295" y="1508.500">28</text><text x="1317" y="1508.500">29</text><text x="1339" y="1497.500">30</text><text x="1339" y="1519.500">31</text>
</g>
<text x="1261" y="1548.300" font-size="14.500" font-weight="bold" style="stroke:none" textLength="106" lengthAdjust="spacingAndGlyphs">RELAY HOLDER</text>
<text x="1376.500" y="1580" font-size="21" style="stroke-width:0" textLength="88" lengthAdjust="spacingAndGlyphs">WI-11927</text>
</svg>
</body></html>
